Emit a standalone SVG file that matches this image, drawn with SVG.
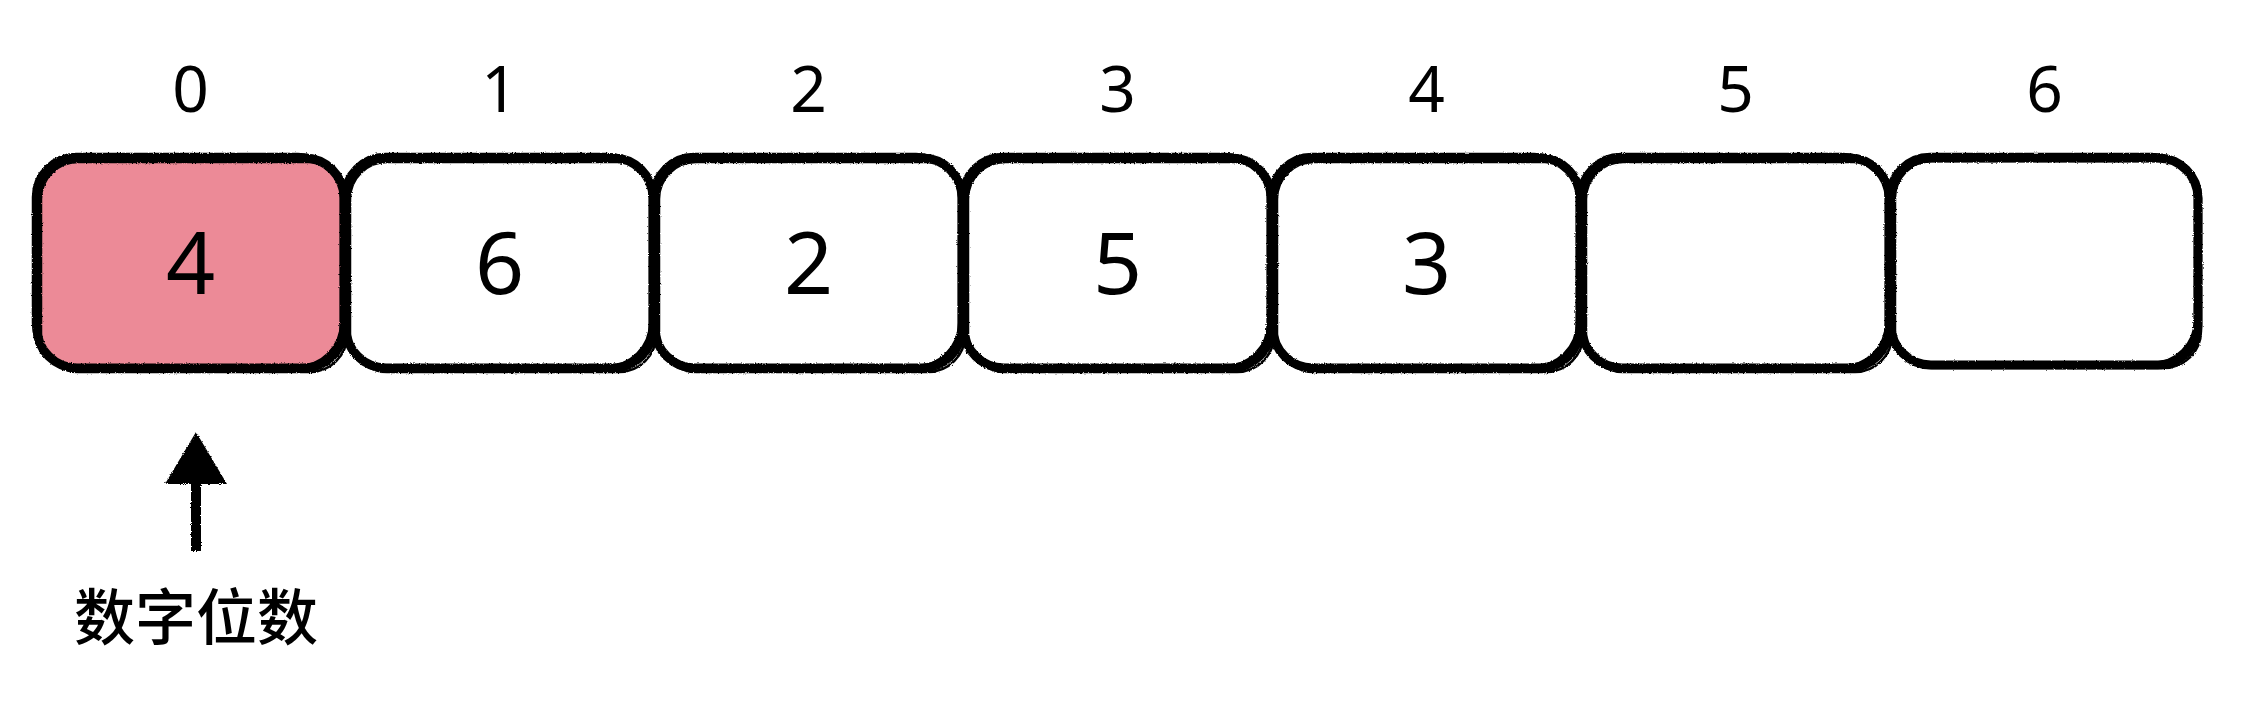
<svg xmlns="http://www.w3.org/2000/svg" width="2249" height="703" viewBox="0 0 2249 703">
  <defs>
    <filter id="rough" x="-5%" y="-10%" width="110%" height="120%">
      <feTurbulence type="fractalNoise" baseFrequency="0.9" numOctaves="2" seed="3" result="n"/>
      <feDisplacementMap in="SourceGraphic" in2="n" scale="2.5" xChannelSelector="R" yChannelSelector="G"/>
    </filter>
    <filter id="roughU" filterUnits="userSpaceOnUse" x="140" y="400" width="120" height="180">
      <feTurbulence type="fractalNoise" baseFrequency="0.9" numOctaves="2" seed="5" result="n"/>
      <feDisplacementMap in="SourceGraphic" in2="n" scale="3" xChannelSelector="R" yChannelSelector="G"/>
    </filter>
    <marker id="head" markerUnits="userSpaceOnUse" markerWidth="52" markerHeight="64" viewBox="0 0 52 64" refX="2" refY="32" orient="auto">
      <path d="M0,1 L52,32 L0,63 Z" fill="#000"/>
    </marker>
    <style>
      .box { stroke: #000; stroke-width: 9; }
      .sk { fill: none; stroke: #000; stroke-width: 2.5; }
      .white { fill: #fff; }
      .pink { fill: #ec8a97; }
      .lbl { font-family: "Noto Sans", "Liberation Sans", sans-serif; font-size: 64px; fill: #000; text-anchor: middle; }
      .val { font-family: "Noto Sans", "Liberation Sans", sans-serif; font-size: 86px; fill: #000; text-anchor: middle; }
      .cjk { font-family: "Noto Sans CJK SC", "Noto Sans", sans-serif; font-size: 61px; font-weight: 500; fill: #000; text-anchor: middle; }
      .conn { stroke: #000; stroke-width: 10; fill: none; }
    </style>
  </defs>
  <rect width="2249" height="703" fill="#fff"/>

  <g id="node-0">
    <g filter="url(#rough)">
      <rect class="box pink" x="37" y="158" width="307" height="210" rx="40"/>
      <rect class="sk" x="33" y="154" width="308" height="212" rx="43"/>
      <rect class="sk" x="41" y="162" width="306" height="210" rx="37"/>
    </g>
    <text class="lbl" x="190.5" y="112">0</text>
    <text class="val" x="190.5" y="294">4</text>
  </g>
  <g id="node-1">
    <g filter="url(#rough)">
      <rect class="box white" x="346" y="158" width="307" height="210" rx="40"/>
      <rect class="sk" x="342" y="154" width="308" height="212" rx="43"/>
      <rect class="sk" x="350" y="162" width="306" height="210" rx="37"/>
    </g>
    <text class="lbl" x="499.5" y="112">1</text>
    <text class="val" x="499.5" y="294">6</text>
  </g>
  <g id="node-2">
    <g filter="url(#rough)">
      <rect class="box white" x="655" y="158" width="307" height="210" rx="40"/>
      <rect class="sk" x="651" y="154" width="308" height="212" rx="43"/>
      <rect class="sk" x="659" y="162" width="306" height="210" rx="37"/>
    </g>
    <text class="lbl" x="808.5" y="112">2</text>
    <text class="val" x="808.5" y="294">2</text>
  </g>
  <g id="node-3">
    <g filter="url(#rough)">
      <rect class="box white" x="964" y="158" width="307" height="210" rx="40"/>
      <rect class="sk" x="960" y="154" width="308" height="212" rx="43"/>
      <rect class="sk" x="968" y="162" width="306" height="210" rx="37"/>
    </g>
    <text class="lbl" x="1117.5" y="112">3</text>
    <text class="val" x="1117.5" y="294">5</text>
  </g>
  <g id="node-4">
    <g filter="url(#rough)">
      <rect class="box white" x="1273" y="158" width="307" height="210" rx="40"/>
      <rect class="sk" x="1269" y="154" width="308" height="212" rx="43"/>
      <rect class="sk" x="1277" y="162" width="306" height="210" rx="37"/>
    </g>
    <text class="lbl" x="1426.5" y="112">4</text>
    <text class="val" x="1426.5" y="294">3</text>
  </g>
  <g id="node-5">
    <g filter="url(#rough)">
      <rect class="box white" x="1582" y="158" width="307" height="210" rx="40"/>
      <rect class="sk" x="1578" y="154" width="308" height="212" rx="43"/>
      <rect class="sk" x="1586" y="162" width="306" height="210" rx="37"/>
    </g>
    <text class="lbl" x="1735.5" y="112">5</text>
  </g>
  <g id="node-6">
    <g filter="url(#rough)">
      <rect class="box white" x="1891" y="158" width="307" height="207" rx="40"/>
      <rect class="sk" x="1887" y="154" width="308" height="209" rx="43"/>
      <rect class="sk" x="1895" y="161" width="306" height="207" rx="37"/>
    </g>
    <text class="lbl" x="2044.5" y="112">6</text>
  </g>

  <g id="node-pointer">
    <text class="cjk" x="196" y="640">数字位数</text>
  </g>

  <g id="connectors" filter="url(#roughU)">
    <line class="conn" x1="196" y1="551" x2="196" y2="482" marker-end="url(#head)"/>
  </g>
</svg>
